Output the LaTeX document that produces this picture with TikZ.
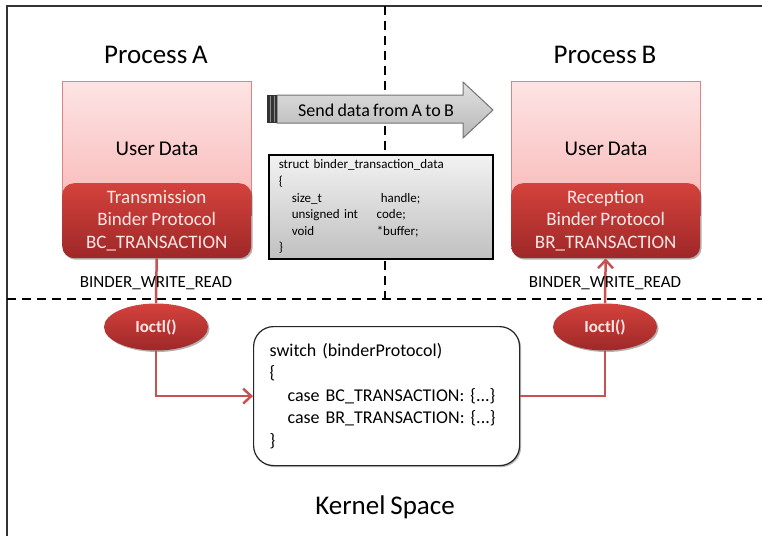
\documentclass[tikz,border=0pt]{standalone}
\usepackage{fontspec}
\setmainfont{Carlito}[WordSpace=0.8]
\usetikzlibrary{shapes.geometric,arrows.meta,shadows,calc}
\definecolor{pinkT}{RGB}{253,228,228}
\definecolor{pinkB}{RGB}{249,182,182}
\definecolor{pinkD}{RGB}{225,130,130}
\definecolor{redT}{RGB}{212,66,60}
\definecolor{redB}{RGB}{158,40,40}
\definecolor{redTxt}{RGB}{255,230,230}
\definecolor{connc}{RGB}{200,82,82}
\definecolor{grayT}{RGB}{242,242,242}
\definecolor{grayB}{RGB}{192,192,192}
\begin{document}
\begin{tikzpicture}[x=1pt,y=-1pt,
  softshadow/.style={drop shadow={shadow xshift=1.5pt,shadow yshift=-1.5pt,opacity=0.3,fill=black}},
  userbox/.style={draw=pinkD,line width=1pt,top color=pinkT,bottom color=pinkB,
    minimum width=189pt,minimum height=134pt,inner sep=0pt,anchor=north west,
    font=\fontsize{21}{25}\selectfont},
  protobox/.style={rounded corners=12pt,top color=redT,bottom color=redB,draw=none,softshadow,
    minimum width=189pt,minimum height=75pt,inner sep=0pt,anchor=north west,align=center,
    text=redTxt,font=\fontsize{19}{22.5}\selectfont},
  ioctlnode/.style={ellipse,top color=redT,bottom color=redB,draw=none,softshadow,
    minimum width=104pt,minimum height=47pt,inner sep=0pt,text=redTxt,
    font=\fontsize{17}{20}\selectfont\bfseries},
  switchbox/.style={draw=black!85,line width=1.2pt,rounded corners=20pt,fill=white,softshadow,
    anchor=north west,align=left,text width=234pt,inner xsep=16pt,inner ysep=0pt,
    minimum height=139pt,font=\fontsize{18}{22.5}\selectfont},
  structbox/.style={draw=black,line width=1.5pt,top color=grayT,bottom color=grayB,softshadow,
    anchor=north west,align=left,text width=204pt,inner xsep=10pt,inner ysep=0pt,
    minimum height=104pt,font=\fontsize{13}{16.6}\selectfont},
  titletext/.style={font=\fontsize{27}{32}\selectfont},
  ioctllabel/.style={font=\fontsize{17}{20}\selectfont},
  conn/.style={draw=connc,line width=2.5pt},
  conntip/.style={-{Straight Barb[length=8pt,width=15pt,line width=2.5pt]}},
  sepline/.style={line width=2pt,dash pattern=on 9pt off 6pt}
]
\useasboundingbox (0,0) rectangle (762,536);
% frame
\draw[line width=1.2pt,black!80] (7,536) -- (7,6) -- (762,6);
% separators
\draw[sepline] (7,299) -- (762,299);
\draw[sepline] (385,6) -- (385,299);

% titles
\node[titletext] (ta) at (156,55) {Process A};
\node[titletext] (tb) at (605,55) {Process B};
\node[titletext] (ks) at (385,507) {Kernel Space};

% process boxes
\node[userbox] (ua) at (62,81) {User Data};
\node[userbox] (ub) at (511,81) {User Data};
\node[protobox] (pa) at (62,183) {Transmission\\Binder Protocol\\BC\_TRANSACTION};
\node[protobox] (pb) at (511,183) {Reception\\Binder Protocol\\BR\_TRANSACTION};

% send arrow
\path[draw=black!55,line width=1pt,top color=black!12,middle color=black!3,bottom color=black!28]
  (277,95) -- (463,95) -- (463,82) -- (493,110) -- (463,138) -- (463,123) -- (277,123) -- cycle;
\fill[black!80] (267,95) rectangle (277,123);
\draw[black!45,line width=1pt] (270.5,96) -- (270.5,122);
\draw[black!45,line width=1pt] (274,96) -- (274,122);
\node[font=\fontsize{18}{20}\selectfont] (send) at (376,110) {Send data from A to B};

% struct box
\node[structbox] (st) at (268,154) {struct binder\_transaction\_data\\
\{\\
\hspace*{13pt}\makebox[89pt][l]{size\_t}handle;\\
\hspace*{13pt}\makebox[85pt][l]{unsigned int}code;\\
\hspace*{13pt}\makebox[85pt][l]{void}*buffer;\\
\}};

% kernel part
\node[ioctlnode] (ea) at (156,327) {Ioctl()};
\node[ioctlnode] (eb) at (605,327) {Ioctl()};
\node[switchbox] (sw) at (253,326) {switch (binderProtocol)\\
\{\\
\hspace*{18pt}case BC\_TRANSACTION: \{...\}\\
\hspace*{18pt}case BR\_TRANSACTION: \{...\}\\
\}};

% connectors
\draw[conn] (pa.south) -- (ea.north);
\draw[conn,conntip] (ea.south) |- (sw.west);
\draw[conn] (sw.east) -| (eb.south);
\draw[conn,conntip] (eb.north) -- (pb.south);

\node[ioctllabel] (bwa) at (156,283) {BINDER\_WRITE\_READ};
\node[ioctllabel] (bwb) at (605,283) {BINDER\_WRITE\_READ};
\end{tikzpicture}
\end{document}
